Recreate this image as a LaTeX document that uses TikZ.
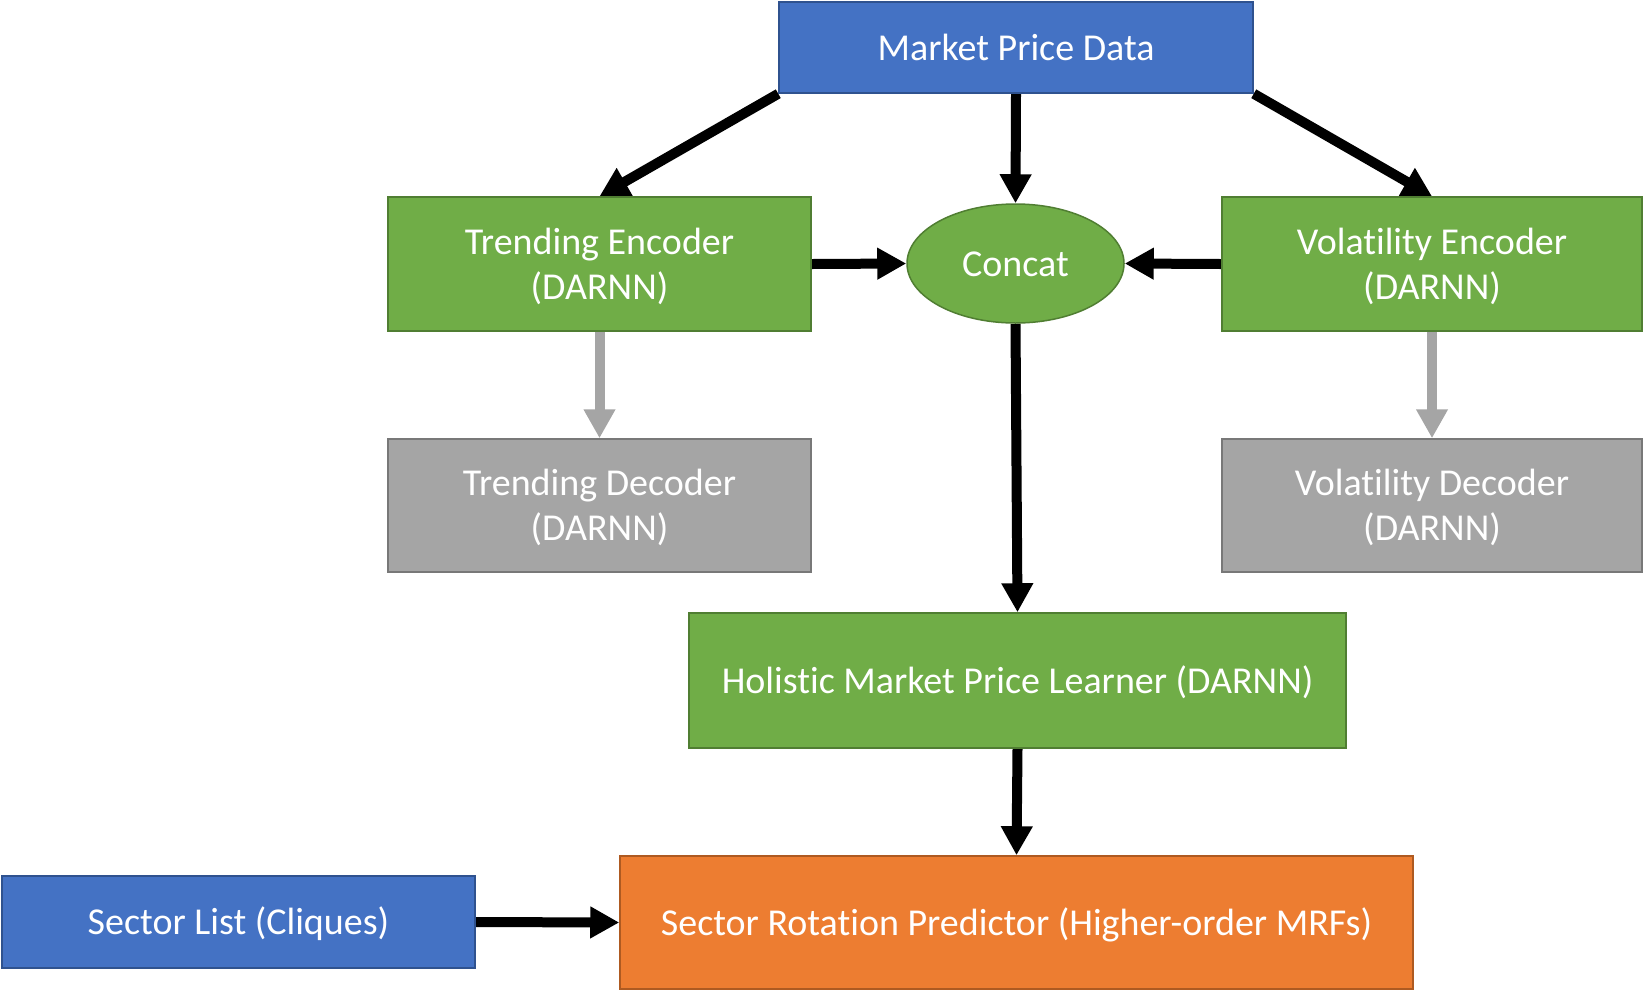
\documentclass[tikz,border=0pt]{standalone}
\usepackage{fontspec}
\setmainfont{Carlito}[Ligatures=NoCommon]
\usetikzlibrary{shapes.geometric,arrows.meta,backgrounds}
\definecolor{cblue}{HTML}{4472C4}
\definecolor{cblueb}{HTML}{2F528F}
\definecolor{cgreen}{HTML}{70AD47}
\definecolor{cgreenb}{HTML}{507E32}
\definecolor{cgray}{HTML}{A5A5A5}
\definecolor{cgrayb}{HTML}{787878}
\definecolor{corange}{HTML}{ED7D31}
\definecolor{coranb}{HTML}{AE5A21}
\tikzset{
  box/.style={rectangle, draw, line width=1.5pt, inner sep=0pt, text=white, align=center,
    font=\fontsize{38}{45}\selectfont, text height=25pt, text depth=0pt},
  twoline/.style={text height=70pt, text depth=0pt},
  bluebox/.style={box, fill=cblue, draw=cblueb},
  greenbox/.style={box, fill=cgreen, draw=cgreenb},
  graybox/.style={box, fill=cgray, draw=cgrayb},
  orangebox/.style={box, fill=corange, draw=coranb},
  conn/.style={line width=10pt, -{Triangle[length=29pt,width=30pt]}},
  blackconn/.style={conn, draw=black},
  grayconn/.style={conn, draw=cgray}
}
\begin{document}
\begin{tikzpicture}[x=1pt,y=-1pt]
\useasboundingbox (0,0) rectangle (1643,989);
\node[bluebox, minimum width=474pt, minimum height=91pt] (market) at (1016,47.5) {Market Price Data};
\node[greenbox, twoline, minimum width=423pt, minimum height=134pt] (tenc) at (599.5,264) {Trending Encoder\\(DARNN)};
\node[ellipse, draw=cgreenb, fill=cgreen, line width=1.5pt, inner sep=0pt, text=white,
  font=\fontsize{38}{45}\selectfont, text height=25pt, text depth=0pt,
  minimum width=217pt, minimum height=119pt] (concat) at (1015.5,263.5) {Concat};
\node[greenbox, twoline, minimum width=420pt, minimum height=134pt] (venc) at (1432,264) {Volatility Encoder\\(DARNN)};
\node[graybox, twoline, minimum width=423pt, minimum height=133pt] (tdec) at (599.5,505.5) {Trending Decoder\\(DARNN)};
\node[graybox, twoline, minimum width=420pt, minimum height=133pt] (vdec) at (1432,505.5) {Volatility Decoder\\(DARNN)};
\node[greenbox, minimum width=657pt, minimum height=135pt] (holistic) at (1017.5,680.5) {Holistic Market Price Learner (DARNN)};
\node[orangebox, minimum width=793pt, minimum height=133pt] (rotation) at (1016.5,922.5) {Sector Rotation Predictor (Higher-order MRFs)};
\node[bluebox, minimum width=473pt, minimum height=92pt] (sector) at (238.5,922) {Sector List (Cliques)};
\begin{pgfonlayer}{background}
\draw[blackconn] (market.south west) -- (tenc.north);
\draw[blackconn] (market.south east) -- (venc.north);
\draw[blackconn] (market.south) -- (concat.north);
\draw[blackconn] (tenc.east) -- (concat.west);
\draw[blackconn] (venc.west) -- (concat.east);
\draw[blackconn] (concat.south) -- (holistic.north);
\draw[blackconn] (holistic.south) -- (rotation.north);
\draw[blackconn] (sector.east) -- (rotation.west);
\draw[grayconn] (tenc.south) -- (tdec.north);
\draw[grayconn] (venc.south) -- (vdec.north);
\end{pgfonlayer}
\end{tikzpicture}
\end{document}
